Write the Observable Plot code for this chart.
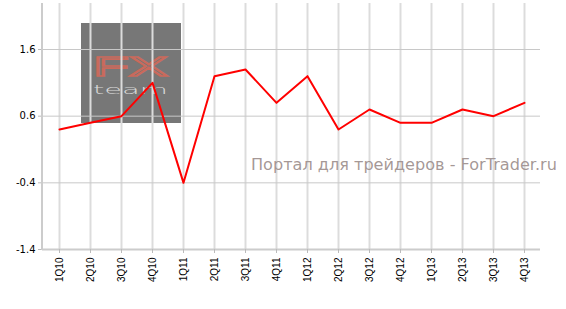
<!DOCTYPE html>
<html>
<head>
<meta charset="utf-8">
<script src="https://cdn.jsdelivr.net/npm/d3@7"></script>
<script src="https://cdn.jsdelivr.net/npm/@observablehq/plot@0.6"></script>
<style>
  html, body { margin: 0; padding: 0; background: #fff; }
</style>
</head>
<body>
<div id="chart"></div>
<script>
const quarters = ["1Q10","2Q10","3Q10","4Q10","1Q11","2Q11","3Q11","4Q11","1Q12","2Q12","3Q12","4Q12","1Q13","2Q13","3Q13","4Q13"];
const values = [0.4, 0.5, 0.6, 1.1, -0.4, 1.2, 1.3, 0.8, 1.2, 0.4, 0.7, 0.5, 0.5, 0.7, 0.6, 0.8];
const yTicks = [-1.4, -0.4, 0.6, 1.6];
const watermark = "Портал для трейдеров - ForTrader.ru";

const data = quarters.map((q, i) => ({q, v: values[i]}));

const W = 566, H = 309;
const mL = 42, mR = 26, mT = 3, mB = 60;

const chart = Plot.plot({
  width: W,
  height: H,
  marginLeft: mL,
  marginRight: mR,
  marginTop: mT,
  marginBottom: mB,
  style: {background: "#fff", fontFamily: "DejaVu Sans", color: "#000"},
  x: {type: "point", domain: quarters, padding: 0.5, label: null},
  y: {domain: [-1.4, 2.29], label: null},
  marks: [
    Plot.gridX(quarters, {stroke: "#dcdcdc", strokeOpacity: 1, strokeWidth: 2}),
    Plot.gridY(yTicks, {stroke: "#c8c8c8", strokeOpacity: 1, strokeWidth: 1}),
    Plot.ruleY([-1.4], {stroke: "#cccccc", strokeWidth: 2}),
    Plot.axisY(yTicks, {tickSize: 4, tickPadding: 3, tickFormat: d => d.toFixed(1), fontSize: 10, stroke: "#bbb", fill: "#000"}),
    Plot.axisX(quarters, {tickRotate: -90, tickSize: 4, tickPadding: 4, fontSize: 10, fontFamily: "Liberation Sans", stroke: "#bbb", fill: "#000"}),
    Plot.line(data, {x: "q", y: "v", stroke: "#ff0000", strokeWidth: 2, curve: "linear"})
  ]
});

document.getElementById("chart").appendChild(chart);

const svg = d3.select(chart);
const ys = chart.scale("y");
const yTop = ys.apply(2.29), yBot = ys.apply(-1.4);

// left axis line
svg.append("line")
  .attr("x1", mL).attr("x2", mL)
  .attr("y1", yTop).attr("y2", yBot + 1)
  .attr("stroke", "#cccccc").attr("stroke-width", 2);

// logo box (behind gridlines)
const logo = svg.insert("g", "g").attr("text-anchor", "start");
logo.append("rect")
  .attr("x", 81).attr("y", 23).attr("width", 100).attr("height", 100)
  .attr("fill", "#777777");
logo.append("text")
  .attr("x", 93).attr("y", 76)
  .attr("font-family", "Liberation Sans")
  .attr("font-size", 28)
  .attr("fill", "none")
  .attr("stroke", "#c96a5c")
  .attr("stroke-width", 1.6)
  .attr("textLength", 75)
  .attr("lengthAdjust", "spacingAndGlyphs")
  .text("FX");
logo.append("text")
  .attr("x", 93).attr("y", 93.5)
  .attr("font-family", "DejaVu Sans")
  .attr("font-weight", 200)
  .attr("font-size", 11.5)
  .attr("fill", "#d8d8d8")
  .attr("textLength", 75)
  .attr("lengthAdjust", "spacingAndGlyphs")
  .text("team");

// watermark text
svg.append("text")
  .attr("x", 251).attr("y", 170)
  .attr("text-anchor", "start")
  .attr("font-family", "DejaVu Sans")
  .attr("font-size", 16.1)
  .attr("fill", "#a09290")
  .attr("fill-opacity", 0.95)
  .text(watermark);
</script>
</body>
</html>
